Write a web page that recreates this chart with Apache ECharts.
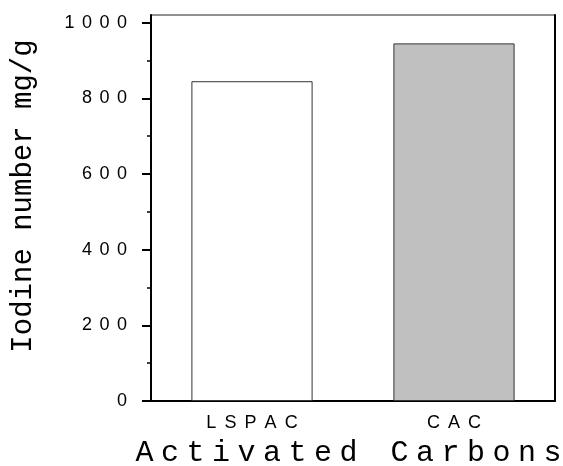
<!DOCTYPE html>
<html><head><meta charset="utf-8">
<script src="https://cdn.jsdelivr.net/npm/echarts@6/dist/echarts.min.js"></script>
<style>html,body{margin:0;padding:0;background:#fff}#c{width:563px;height:466px}</style>
</head><body><div id="c"></div>
<script>
const categories = ['LSPAC', 'CAC'];
const iodineValues = [845, 945];
const majorTicks = [0, 200, 400, 600, 800, 1000];
const minorTicks = [100, 300, 500, 700, 900];
const xName = 'Activated Carbons';
const yName = 'Iodine number mg/g';

const spaced = (s, sp) => s.split('').join(sp);
const chart = echarts.init(document.getElementById('c'));
chart.setOption({
  animation: false,
  backgroundColor: '#fff',
  grid: { left: 151, right: 8, top: 15, bottom: 65, show: true, borderColor: '#222', borderWidth: 1,
    containLabel: false, outerBoundsMode: 'none' },
  xAxis: [{
    type: 'category', data: categories, position: 'bottom',
    axisLine: { lineStyle: { color: '#000', width: 2 } },
    axisTick: { alignWithLabel: true, length: 6, lineStyle: { color: '#000', width: 2 } },
    axisLabel: { margin: 13, color: '#000', fontFamily: 'Liberation Sans', fontSize: 18,
      formatter: v => spaced(v, '\u2005\u2009') },
    name: spaced(xName, '\u2005'), nameLocation: 'middle', nameGap: 37,
    nameTextStyle: { fontFamily: 'Liberation Mono', fontSize: 30, color: '#000', padding: [0, 9, 0, 0] }
  }, {
    type: 'category', data: categories, position: 'bottom',
    axisLine: { show: false },
    axisTick: { length: 3, lineStyle: { color: '#000', width: 2 } },
    axisLabel: { show: false }
  }],
  yAxis: [{
    type: 'value', min: 0, max: 1020, position: 'left',
    axisLine: { show: true, lineStyle: { color: '#000', width: 2 } },
    axisTick: { show: true, inside: false, length: 9, customValues: majorTicks, lineStyle: { color: '#000', width: 2 } },
    axisLabel: { margin: 24, color: '#000', fontFamily: 'Liberation Sans', fontSize: 18,
      customValues: majorTicks, formatter: v => spaced(String(v), '\u2005\u2006') },
    splitLine: { show: false },
    name: yName, nameLocation: 'middle', nameGap: 113,
    nameTextStyle: { fontFamily: 'Liberation Mono', fontSize: 29, color: '#000', padding: [0, 0, 0, 24] }
  }, {
    type: 'value', min: 0, max: 1020, position: 'left',
    axisLine: { show: false },
    axisTick: { show: true, length: 4, customValues: minorTicks, lineStyle: { color: '#000', width: 1.5 } },
    axisLabel: { show: false }, splitLine: { show: false }
  }, {
    type: 'value', min: 0, max: 1020, position: 'right',
    axisLine: { show: true, lineStyle: { color: '#000', width: 2 } },
    axisTick: { show: false }, axisLabel: { show: false }, splitLine: { show: false }
  }],
  series: [{
    type: 'bar', xAxisIndex: 0, yAxisIndex: 0, barWidth: '60%',
    data: iodineValues.map((v, i) => ({ value: v,
      itemStyle: { color: i === 0 ? '#ffffff' : '#c0c0c0', borderColor: '#333', borderWidth: 1 } }))
  }]
});
</script></body></html>
